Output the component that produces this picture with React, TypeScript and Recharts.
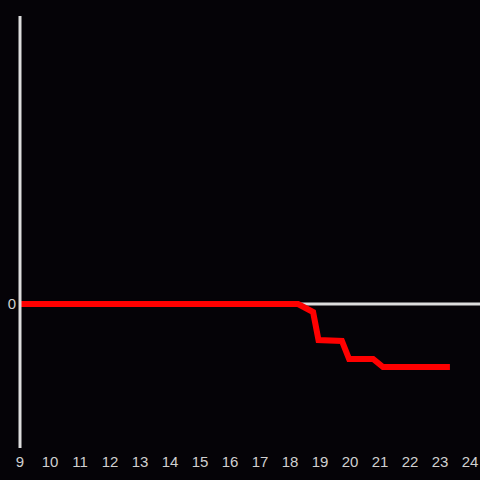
import { LineChart, Line, XAxis, YAxis, ReferenceLine } from "recharts";

const HOURS = [9, 18.27, 18.77, 18.95, 19.73, 19.97, 20.77, 21.1, 23.33];
const VALUES = [0, 0, -0.056, -0.25, -0.257, -0.382, -0.382, -0.4375, -0.4375];
const X_TICKS = [9, 10, 11, 12, 13, 14, 15, 16, 17, 18, 19, 20, 21, 22, 23, 24];
const Y_TICKS = [0];

const DATA = HOURS.map((h, i) => ({ hour: h, value: VALUES[i] }));

const BG = "#050307";
const AXIS = "#dddddd";
const TICK = { fill: "#d0d0d0", fontSize: 15, fontFamily: "Liberation Sans, Arial, sans-serif" };

export default function App() {
  return (
    <div style={{ position: "fixed", top: 0, left: 0, width: 480, height: 480, background: BG }}>
      <LineChart
        width={480}
        height={480}
        data={DATA}
        margin={{ top: 16, right: 0, bottom: 0, left: 0 }}
      >
        <XAxis
          dataKey="hour"
          type="number"
          domain={[9, 24.333]}
          ticks={X_TICKS}
          tick={TICK}
          axisLine={false}
          tickLine={false}
          height={32}
          allowDataOverflow
        />
        <YAxis
          type="number"
          domain={[-1, 2]}
          ticks={Y_TICKS}
          tick={{ ...TICK, dx: 4 }}
          width={20}
          axisLine={{ stroke: AXIS, strokeWidth: 3 }}
          tickLine={false}
          allowDataOverflow
        />
        <ReferenceLine y={0} stroke={AXIS} strokeWidth={3} />
        <Line
          dataKey="value"
          stroke="#ff0000"
          strokeWidth={6}
          dot={false}
          activeDot={false}
          type="linear"
          isAnimationActive={false}
        />
      </LineChart>
    </div>
  );
}
